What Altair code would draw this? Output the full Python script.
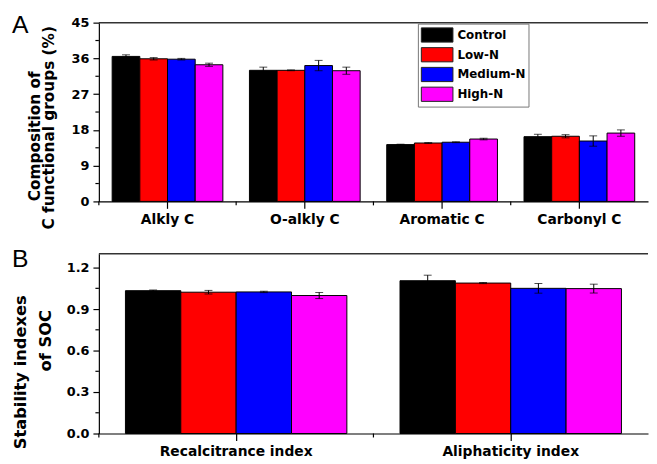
import altair as alt
import pandas as pd

# ---------------- data ----------------
series = ["Control", "Low-N", "Medium-N", "High-N"]
colors = ["#000000", "#ff0000", "#0000ff", "#ff00ff"]

groups_a = ["Alkly C", "O-alkly C", "Aromatic C", "Carbonyl C"]
control_a = [36.5, 33.0, 14.3, 16.3]
lown_a = [35.9, 33.0, 14.7, 16.4]
mediumn_a = [35.8, 34.2, 14.9, 15.2]
highn_a = [34.4, 32.9, 15.7, 17.2]
control_a_err = [0.4, 0.8, 0.1, 0.6]
lown_a_err = [0.3, 0.1, 0.1, 0.4]
mediumn_a_err = [0.2, 1.3, 0.1, 1.3]
highn_a_err = [0.4, 0.9, 0.2, 0.8]
yticks_a = [0, 9, 18, 27, 36, 45]
yminor_a = [4.5, 13.5, 22.5, 31.5, 40.5]

groups_b = ["Recalcitrance index", "Aliphaticity index"]
control_b = [1.033, 1.105]
lown_b = [1.022, 1.088]
mediumn_b = [1.024, 1.050]
highn_b = [0.998, 1.048]
control_b_err = [0.005, 0.04]
lown_b_err = [0.013, 0.004]
mediumn_b_err = [0.005, 0.035]
highn_b_err = [0.022, 0.032]
yticks_b = [0.0, 0.3, 0.6, 0.9, 1.2]
yminor_b = [0.15, 0.45, 0.75, 1.05]


def make_df(groups, vals, errs):
    rows = []
    for s, v, e in zip(series, vals, errs):
        for g, vv, ee in zip(groups, v, e):
            rows.append({"group": g, "series": s, "value": vv,
                         "lo": vv - ee, "hi": vv + ee})
    return pd.DataFrame(rows)


df_a = make_df(groups_a, [control_a, lown_a, mediumn_a, highn_a],
               [control_a_err, lown_a_err, mediumn_a_err, highn_a_err])
df_b = make_df(groups_b, [control_b, lown_b, mediumn_b, highn_b],
               [control_b_err, lown_b_err, mediumn_b_err, highn_b_err])

FONT = "DejaVu Sans"
W = 556


def panel(df, groups, ydomain, yticks, yminor, fmt, H, letter, letter_y,
          titles, show_legend):
    xscale = alt.Scale(domain=groups, paddingInner=0, paddingOuter=0)
    xaxis = alt.Axis(title=None, labelAngle=0, tickSize=7, tickColor="black",
                     tickWidth=1.2, domainColor="black", domainWidth=1.2,
                     labelFont=FONT, labelFontWeight="bold", labelFontSize=14,
                     labelColor="black", labelPadding=4, grid=False)
    yscale = alt.Scale(domain=ydomain, nice=False, zero=True)
    yaxis = alt.Axis(title=None, values=yticks, format=fmt, tickSize=6,
                     tickColor="black", tickWidth=1.2, domainColor="black",
                     domainWidth=1.2, labelFont=FONT, labelFontWeight="bold",
                     labelFontSize=13, labelColor="black", labelPadding=4,
                     grid=False)

    def X(**kw):
        return alt.X("group:N", sort=groups, scale=xscale, axis=xaxis, **kw)

    def Y(field):
        return alt.Y(field, scale=yscale, axis=yaxis)

    xoff = alt.XOffset("series:N", sort=series,
                       scale=alt.Scale(domain=series, paddingInner=0,
                                       paddingOuter=0.48))
    base = alt.Chart(df).encode(x=X(), xOffset=xoff)

    if show_legend:
        legend = alt.Legend(
            orient="none", legendX=323, legendY=1, title=None,
            direction="vertical",
            symbolType="M-2,-0.9L2,-0.9L2,0.9L-2,0.9Z", symbolSize=256,
            symbolOffset=8, symbolStrokeColor="#222", symbolStrokeWidth=1,
            symbolOpacity=1, labelFont=FONT, labelFontWeight="bold",
            labelFontSize=12, labelColor="black", labelOffset=12,
            strokeColor="#777", fillColor="white", padding=3, rowPadding=1)
    else:
        legend = None
    color = alt.Color("series:N", sort=series,
                      scale=alt.Scale(domain=series, range=colors),
                      legend=legend)

    bars = base.mark_bar(stroke="black", strokeWidth=1, opacity=1).encode(
        y=Y("value:Q"), color=color)
    rules = base.mark_rule(color="black", strokeWidth=1).encode(
        y=Y("lo:Q"), y2="hi:Q")
    cap_hi = base.mark_tick(color="black", size=8, thickness=1).encode(
        y=Y("hi:Q"))
    cap_lo = base.mark_tick(color="black", size=8, thickness=1).encode(
        y=Y("lo:Q"))

    bdf = pd.DataFrame({"group": groups})
    bticks = alt.Chart(bdf).mark_rule(color="black", strokeWidth=1.2).encode(
        x=X(bandPosition=0), y=alt.value(H), y2=alt.value(H + 4))

    mdf = pd.DataFrame({"m": yminor})
    minor = alt.Chart(mdf).mark_rule(color="black", strokeWidth=1.2).encode(
        y=Y("m:Q"), x=alt.value(-3.5), x2=alt.value(0))

    one = pd.DataFrame({"k": [0]})
    top = alt.Chart(one).mark_rule(color="#333", strokeWidth=1.5).encode(
        x=alt.value(0), x2=alt.value(W), y=alt.value(0))

    let = alt.Chart(one).mark_text(
        font="Liberation Sans", fontSize=25, align="left",
        baseline="alphabetic", color="black").encode(
        x=alt.value(-88), y=alt.value(letter_y), text=alt.value(letter))

    tlayers = []
    for txt, tx, ty, fs in titles:
        tlayers.append(alt.Chart(one).mark_text(
            font=FONT, fontWeight="bold", fontSize=fs, angle=270,
            align="center", baseline="middle", color="black").encode(
            x=alt.value(tx), y=alt.value(ty), text=alt.value(txt)))

    return alt.layer(bars, rules, cap_hi, cap_lo, bticks, minor, top, let,
                     *tlayers).properties(width=W, height=H)


chart_a = panel(df_a, groups_a, [0, 45], yticks_a, yminor_a, "d", 181, "A",
                10,
                [("Composition of", -65, 115, 15.5),
                 ("C functional groups (%)", -50, 106.5, 15.5)], True)
chart_b = panel(df_b, groups_b, [0, 1.3], yticks_b, yminor_b, ".1f", 182, "B",
                13,
                [("Stability indexes", -79, 120, 16.5),
                 ("of  SOC", -53, 88, 16.5)], False)

chart = alt.vconcat(chart_a, chart_b, spacing=53, bounds="flush").resolve_scale(
    color="independent", x="independent", y="independent", xOffset="independent"
).properties(
    padding={"left": 4, "top": 2, "right": 0, "bottom": 0}
).configure_view(stroke=None)

chart.save("out.html", embed_options={"renderer": "svg", "actions": False})
